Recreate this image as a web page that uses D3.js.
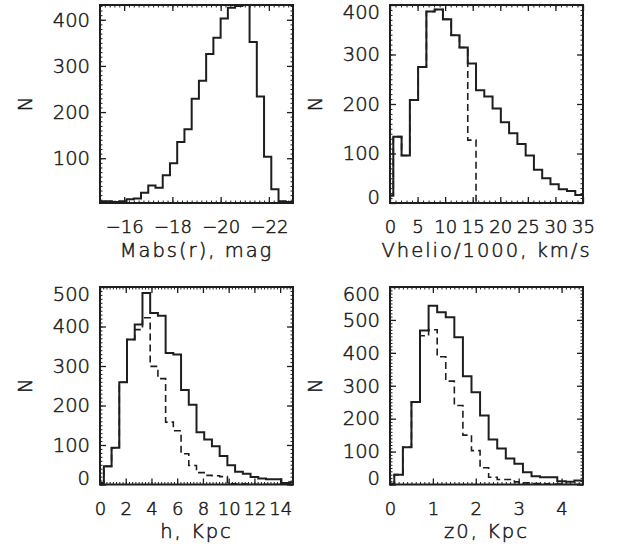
<!DOCTYPE html>
<html>
<head>
<meta charset="utf-8">
<script src="https://cdn.jsdelivr.net/npm/d3@7"></script>
<style>
  body { margin: 0; background: #fff; }
  text { font-family: "DejaVu Sans", sans-serif; fill: #1a1a1a; font-weight: 200; stroke: #1a1a1a; stroke-width: 0.5px; }
</style>
</head>
<body>
<div id="chart"></div>
<script>
// ---- data ----
// absolute magnitude histogram (bins of 0.3 mag, first bin clipped at -15)
var magCounts = [7, 7, 5, 7, 11, 13, 25, 41, 36, 63, 89, 135, 163, 229, 268, 326, 361, 403, 426, 430, 432, 352, 234, 103, 33, 7, 5];
var magTicks = [-16, -18, -20, -22];
var magYTicks = [100, 200, 300, 400];

// heliocentric velocity / 1000 (bins of 1.5)
var velCounts = [15, 134, 96, 208, 275, 387, 391, 371, 339, 314, 282, 228, 215, 191, 163, 141, 119, 96, 67, 50, 38, 28, 24, 16];
var velCut = [15, 134, 96, 208, 275, 387, 391, 371, 339, 314, 127, 0, 0, 0, 0, 0, 0, 0, 0, 0, 0, 0, 0, 0];
var velTicks = [0, 5, 10, 15, 20, 25, 30, 35];
var velYTicks = [0, 100, 200, 300, 400];

// scale length h (bins of 0.6 Kpc)
var hCounts = [4, 46, 93, 259, 367, 405, 485, 434, 427, 333, 329, 239, 202, 132, 114, 97, 72, 49, 32, 27, 19, 15, 13, 13, 4, 6];
var hCut = [4, 46, 93, 259, 367, 392, 422, 299, 268, 158, 136, 78, 48, 30, 23, 22, 20, 2, 1, 1, 0, 0, 0, 0, 0, 0];
var hTicks = [0, 2, 4, 6, 8, 10, 12, 14];
var hYTicks = [0, 100, 200, 300, 400, 500];

// scale height z0 (bins of 0.2 Kpc)
var zCounts = [2, 30, 113, 251, 468, 543, 523, 508, 447, 329, 280, 210, 137, 109, 79, 63, 37, 25, 22, 22, 10, 8, 12];
var zCut = [2, 30, 113, 251, 452, 470, 388, 314, 240, 150, 103, 51, 22, 15, 15, 8, 5, 3, 2, 1, 1, 0, 0];
var zTicks = [0, 1, 2, 3, 4];
var zYTicks = [0, 100, 200, 300, 400, 500, 600];

// ---- drawing ----
var svg = d3.select("#chart").append("svg")
    .attr("width", 619)
    .attr("height", 552);

var ink = "#1e1e1e";

// bin edges: domain start, first inner edge, then fixed width, last clipped
function binEdges(d0, d1, lo, w, n) {
    var e = [d0];
    for (var k = 0; k < n - 1; k++) e.push(lo + k * w);
    e.push(d1);
    return e;
}

function drawPanel(p) {
    var width = 193, height = p.h;
    var g = svg.append("g")
        .attr("transform", "translate(" + p.left + "," + p.top + ")");

    var x = d3.scaleLinear().domain(p.xDomain).range([0, width]);
    var y = d3.scaleLinear().domain(p.yDomain).range([height, 0]);

    var clipId = "clip" + p.left + "_" + p.top;
    g.append("clipPath").attr("id", clipId)
        .append("rect").attr("width", width).attr("height", height);

    var edges = binEdges(p.xDomain[0], p.xDomain[1], p.binLo, p.binW, p.counts.length);

    function stepPath(vals) {
        var pts = vals.map(function (v, i) { return [edges[i], v]; });
        pts.push([edges[vals.length], vals[vals.length - 1]]);
        return d3.line()
            .x(function (d) { return x(d[0]); })
            .y(function (d) { return y(d[1]); })
            .curve(d3.curveStepAfter)(pts);
    }

    var plot = g.append("g").attr("clip-path", "url(#" + clipId + ")");
    if (p.cut) {
        plot.append("path")
            .attr("d", stepPath(p.cut))
            .attr("fill", "none")
            .attr("stroke", ink)
            .attr("stroke-width", 1.6)
            .attr("stroke-dasharray", "7,4");
    }
    plot.append("path")
        .attr("d", stepPath(p.counts))
        .attr("fill", "none")
        .attr("stroke", ink)
        .attr("stroke-width", 2);

    // minor ticks on all four sides
    var xMinor = d3.range(Math.min.apply(null, p.xDomain), Math.max.apply(null, p.xDomain) + 1e-9, p.xMinor);
    var yMinor = d3.range(p.yDomain[0] - p.yDomain[0] % p.yMinor, p.yDomain[1] + 1e-9, p.yMinor)
        .filter(function (v) { return v >= p.yDomain[0]; });

    [[d3.axisBottom(x), "translate(0," + height + ")", xMinor],
     [d3.axisTop(x), null, xMinor],
     [d3.axisLeft(y), null, yMinor],
     [d3.axisRight(y), "translate(" + width + ",0)", yMinor]].forEach(function (a) {
        var ag = g.append("g").attr("class", "minor");
        if (a[1]) ag.attr("transform", a[1]);
        ag.call(a[0].tickValues(a[2]).tickSize(-2.5).tickFormat(""));
        ag.select(".domain").remove();
        ag.selectAll("line").attr("stroke", ink).attr("stroke-width", 1);
    });

    // major ticks + labels
    var xb = g.append("g")
        .attr("transform", "translate(0," + height + ")")
        .call(d3.axisBottom(x).tickValues(p.xTicks).tickSizeInner(-6).tickSizeOuter(0).tickPadding(17.7)
            .tickFormat(function (d) { return d < 0 ? "\u2212" + (-d) : d; }));
    var xt = g.append("g")
        .call(d3.axisTop(x).tickValues(p.xTicks).tickSizeInner(-6).tickSizeOuter(0).tickFormat(""));
    var yl = g.append("g")
        .call(d3.axisLeft(y).tickValues(p.yTicks).tickSizeInner(-6).tickSizeOuter(0).tickPadding(10));
    var yr = g.append("g")
        .attr("transform", "translate(" + width + ",0)")
        .call(d3.axisRight(y).tickValues(p.yTicks).tickSizeInner(-6).tickSizeOuter(0).tickFormat(""));

    [xb, xt, yl, yr].forEach(function (ag) {
        ag.select(".domain").remove();
        ag.selectAll("line").attr("stroke", ink).attr("stroke-width", 1.3);
        ag.selectAll("text")
            .style("font-family", "DejaVu Sans")
            .style("font-weight", "200")
            .style("font-size", "19.5px")
            .attr("fill", "#1a1a1a");
    });
    xb.selectAll("text").style("font-size", "18px");

    // end labels on the y axis sit inside the frame
    yl.selectAll("text").attr("y", function (d) {
        var py = y(d);
        var c = Math.max(7, Math.min(height - 6, py));
        return c - py;
    });

    // frame
    g.append("rect")
        .attr("width", width)
        .attr("height", height)
        .attr("fill", "none")
        .attr("stroke", ink)
        .attr("stroke-width", 2);

    g.append("text")
        .attr("x", width / 2)
        .attr("y", height + 53.5)
        .attr("text-anchor", "middle")
        .style("font-size", "19.5px")
        .style("letter-spacing", "2px")
        .text(p.title);

    g.append("text")
        .attr("transform", "translate(-75," + (height / 2) + ") rotate(-90)")
        .attr("text-anchor", "middle")
        .attr("dy", "0.35em")
        .style("font-size", "19.5px")
        .text("N");
}

drawPanel({ left: 100, top: 5, h: 198, xDomain: [-15, -23], yDomain: [3, 432],
    binLo: -15.2, binW: -0.3, counts: magCounts, cut: null,
    xTicks: magTicks, yTicks: magYTicks, xMinor: 0.2, yMinor: 10, title: "Mabs(r), mag" });

drawPanel({ left: 390, top: 5, h: 198, xDomain: [0, 35], yDomain: [0, 400],
    binLo: 0.6, binW: 1.5, counts: velCounts, cut: velCut,
    xTicks: velTicks, yTicks: velYTicks, xMinor: 1, yMinor: 10, title: "Vhelio/1000, km/s" });

drawPanel({ left: 100, top: 287, h: 197.5, xDomain: [0, 15], yDomain: [0, 500],
    binLo: 0.3, binW: 0.6, counts: hCounts, cut: hCut,
    xTicks: hTicks, yTicks: hYTicks, xMinor: 0.25, yMinor: 10, title: "h, Kpc" });

drawPanel({ left: 390, top: 287, h: 197.5, xDomain: [0, 4.5], yDomain: [0, 600],
    binLo: 0.1, binW: 0.2, counts: zCounts, cut: zCut,
    xTicks: zTicks, yTicks: zYTicks, xMinor: 0.1, yMinor: 10, title: "z0, Kpc" });
</script>
</body>
</html>
